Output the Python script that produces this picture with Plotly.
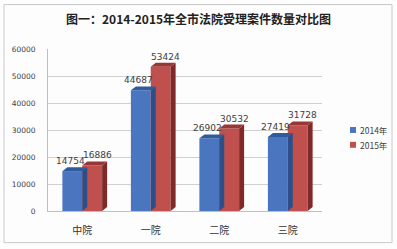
import plotly.graph_objects as go

categories = ["中院", "一院", "二院", "三院"]
series_names = ["2014年", "2015年"]
values_2014 = [14754, 44687, 26902, 27419]
values_2015 = [16886, 53424, 30532, 31728]
y_ticks = [0, 10000, 20000, 30000, 40000, 50000, 60000]

front_colors = ["#4a76c0", "#c0504d"]
side_colors = ["#2c4f8a", "#7f2a28"]
top_colors = ["#2f5a9c", "#9a3634"]

FONT = "Noto Sans CJK SC"
L, R, T, B = 48, 75, 49, 36
W, H = 397, 249
plot_w = W - L - R
plot_h = H - T - B
y_max = 60000
bargap = 0.42
bar_w = (1 - bargap) / 2
dx = 5 / (plot_w / len(categories))   # depth offset in category units
dy = 4 * y_max / plot_h              # depth offset in value units
label_shift = [-2, 5]
legend_px_y = [131, 146]


def px_x(px):
    return (px - L) / plot_w


def px_y(py):
    return (H - B - py) / plot_h


fig = go.Figure()
annotations = []
shapes = []
for k, (name, vals) in enumerate(zip(series_names, [values_2014, values_2015])):
    fig.add_trace(go.Bar(
        x=categories, y=vals, name=name, showlegend=False,
        marker=dict(color=front_colors[k], line=dict(width=0)),
        cliponaxis=False,
    ))
    for i, v in enumerate(vals):
        x0 = i - bar_w + k * bar_w
        x1 = x0 + bar_w
        shapes.append(dict(
            type="path", xref="x", yref="y",
            path=f"M {x1},{0} L {x1+dx},{dy} L {x1+dx},{v+dy} L {x1},{v} Z",
            fillcolor=side_colors[k], line=dict(width=0), layer="above"))
        shapes.append(dict(
            type="path", xref="x", yref="y",
            path=f"M {x0},{v} L {x0+dx},{v+dy} L {x1+dx},{v+dy} L {x1},{v} Z",
            fillcolor=top_colors[k], line=dict(width=0), layer="above"))
        annotations.append(dict(
            x=(x0 + x1) / 2, y=v + dy, xref="x", yref="y",
            text=str(v), showarrow=False, xanchor="center", yanchor="bottom",
            xshift=label_shift[k], yshift=-1,
            font=dict(family="DejaVu Sans", size=9, color="#404040")))
    # legend (key square + label)
    shapes.append(dict(type="rect", xref="paper", yref="paper",
                       x0=px_x(350), x1=px_x(356),
                       y0=px_y(legend_px_y[k] + 3), y1=px_y(legend_px_y[k] - 3),
                       fillcolor=front_colors[k], line=dict(width=0)))
    annotations.append(dict(text=name, xref="paper", yref="paper",
                            x=px_x(358), y=px_y(legend_px_y[k]),
                            xanchor="left", yanchor="middle", showarrow=False,
                            font=dict(family=FONT, size=8.5, color="#404040")))

shapes.append(dict(type="rect", xref="paper", yref="paper",
                   x0=px_x(4), x1=px_x(W - 5),
                   y0=px_y(245), y1=px_y(4),
                   line=dict(color="#c8c8c8", width=1), layer="below"))

annotations.append(dict(text="<b>图一：2014-2015年全市法院受理案件数量对比图</b>",
                        xref="paper", yref="paper",
                        x=px_x(198), y=px_y(18),
                        xanchor="center", yanchor="middle", showarrow=False,
                        font=dict(family=FONT, size=12, color="#222222")))

fig.update_layout(
    width=W, height=H,
    margin=dict(l=L, r=R, t=T, b=B),
    paper_bgcolor="#fdfdfd", plot_bgcolor="#fdfdfd",
    barmode="group", bargap=bargap, bargroupgap=0,
    shapes=shapes, annotations=annotations,
    showlegend=False,
    xaxis=dict(showgrid=False, showline=True, linecolor="#bfbfbf",
               tickfont=dict(family=FONT, size=10, color="#333333"),
               ticks="outside", ticklen=10, tickcolor="rgba(0,0,0,0)",
               range=[-0.5, 3.5]),
    yaxis=dict(range=[0, y_max], tickvals=y_ticks, tickformat="d",
               showgrid=True, gridcolor="#d0d0d0", gridwidth=1, zeroline=False,
               showline=True, linecolor="#bfbfbf",
               ticks="outside", ticklen=10, tickcolor="rgba(0,0,0,0)",
               tickfont=dict(family="DejaVu Sans", size=7.5, color="#404040")),
)

fig.write_html("out.html")
